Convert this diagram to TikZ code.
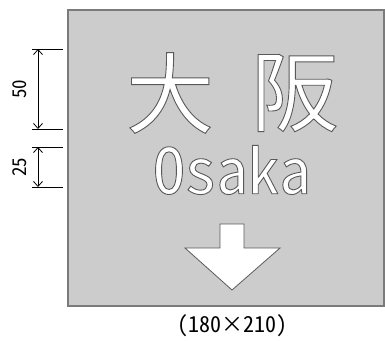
\documentclass[tikz,border=0pt]{standalone}
\usepackage{fontspec}
\setmainfont{Noto Sans CJK JP}
\newfontfamily\halfwidth[RawFeature=+hwid]{Noto Sans CJK JP}
\usetikzlibrary{arrows.meta, positioning}
\definecolor{panelgray}{HTML}{CCCCCC}
\definecolor{edgegray}{HTML}{5A5A5A}
% white letters with a thin grey outline
\newcommand{\hollow}[1]{\textcolor{white}{\special{pdf:literal direct q 2 Tr 0.9 w 0.35 G}#1\special{pdf:literal direct Q}}}

\begin{document}
\begin{tikzpicture}[x=1pt, y=-1pt, >={Straight Barb[length=5pt,width=9pt]},
  every node/.style={inner sep=0pt},
  dimline/.style={<->, line width=0.8pt},
  extline/.style={line width=0.8pt},
  dimlabel/.style={rotate=90, font=\halfwidth\fontsize{19}{19}\selectfont},
  kanji/.style={font=\fontsize{88}{88}\selectfont},
  roman/.style={font=\halfwidth\fontsize{63}{63}\selectfont},
  caption/.style={font=\halfwidth\fontsize{22}{22}\selectfont}]
  \useasboundingbox (0,0) rectangle (385,340);

  % Sign panel
  \draw[fill=panelgray, draw=edgegray!80, line width=1.2pt] (68,10) rectangle (384,306);

  % Station name
  \node[kanji] (dai) at (170,93) {\hollow{大}};
  \node[kanji] (han) at (295,93) {\hollow{阪}};
  \node[roman] (osaka) at (232,170) {\hollow{Osaka}};

  % Down arrow
  \draw[fill=white, draw=edgegray, line width=0.8pt]
    (220,224) -- (244,224) -- (244,248) -- (280,248) -- (232,290)
    -- (185,248) -- (220,248) -- cycle;

  % Dimension lines
  \coordinate (d1top) at (38,49);
  \coordinate (d1bot) at (38,129);
  \coordinate (d2top) at (38,147);
  \coordinate (d2bot) at (38,187);
  \foreach \c in {d1top, d1bot, d2top, d2bot}
    \draw[extline] ([xshift=-6pt]\c) -- ([xshift=25pt]\c);
  \draw[dimline] (d1top) -- (d1bot);
  \draw[dimline] (d2top) -- (d2bot);
  \node[dimlabel] (h50) at (20,89) {50};
  \node[dimlabel] (h25) at (20,167) {25};

  % Size
  \node[caption] (size) at (232,326) {(180×210)};
\end{tikzpicture}
\end{document}
